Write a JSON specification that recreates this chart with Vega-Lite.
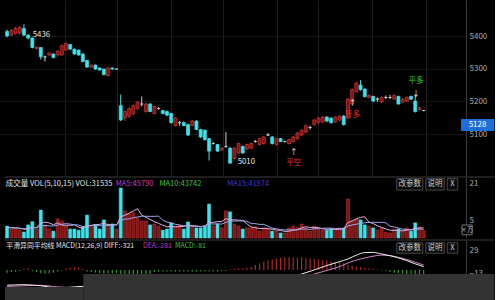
{
  "$schema": "https://vega.github.io/schema/vega-lite/v6.json",
  "background": "#000000",
  "padding": 0,
  "spacing": 0,
  "config": {
    "view": {"stroke": null},
    "concat": {"spacing": 0},
    "axis": {"labelFont": "Noto Sans CJK SC", "labelFontSize": 8, "labelColor": "#a8a8a8"},
    "text": {"font": "Noto Sans CJK SC"}
  },
  "datasets": {
    "k": [
      {"i":0,"o":5414,"c":5400,"h":5420,"l":5396,"v":5.2,"m5":4.5,"m10":4.5,"m":-5},
      {"i":1,"o":5403,"c":5417,"h":5422,"l":5400,"v":4,"m5":4.5,"m10":4.5,"m":-4},
      {"i":2,"o":5408,"c":5423,"h":5428,"l":5405,"v":4,"m5":4.4,"m10":4.4,"m":-3},
      {"i":3,"o":5409,"c":5426,"h":5430,"l":5405,"v":3.5,"m5":4.2,"m10":4.3,"m":-2},
      {"i":4,"o":5423,"c":5403,"h":5436,"l":5400,"v":2.6,"m5":3.86,"m10":4.1,"m":2},
      {"i":5,"o":5403,"c":5394,"h":5405,"l":5390,"v":5.7,"m5":3.96,"m10":4.2,"m":3},
      {"i":6,"o":5394,"c":5365,"h":5396,"l":5362,"v":7.1,"m5":4.58,"m10":4.5,"m":-2},
      {"i":7,"o":5362,"c":5366,"h":5368,"l":5360,"v":4,"m5":4.58,"m10":4.5,"m":-4},
      {"i":8,"o":5365,"c":5337,"h":5366,"l":5328,"v":12.2,"m5":6.32,"m10":5.3,"m":-6},
      {"i":9,"o":5336,"c":5336,"h":5340,"l":5322,"v":5.7,"m5":6.94,"m10":5.4,"m":-7},
      {"i":10,"o":5342,"c":5348,"h":5350,"l":5340,"v":3.9,"m5":6.58,"m10":5.3,"m":-6},
      {"i":11,"o":5345,"c":5334,"h":5347,"l":5332,"v":3,"m5":5.76,"m10":5.2,"m":-5},
      {"i":12,"o":5342,"c":5354,"h":5356,"l":5340,"v":8.3,"m5":6.62,"m10":5.6,"m":-3},
      {"i":13,"o":5342,"c":5371,"h":5374,"l":5340,"v":7.4,"m5":5.66,"m10":6,"m":-1},
      {"i":14,"o":5357,"c":5377,"h":5380,"l":5355,"v":5.2,"m5":5.56,"m10":6.25,"m":2},
      {"i":15,"o":5374,"c":5360,"h":5376,"l":5358,"v":3.9,"m5":5.56,"m10":6.07,"m":4},
      {"i":16,"o":5360,"c":5345,"h":5362,"l":5343,"v":3.9,"m5":5.74,"m10":5.75,"m":5},
      {"i":17,"o":5357,"c":5342,"h":5359,"l":5340,"v":3.4,"m5":4.76,"m10":5.69,"m":4},
      {"i":18,"o":5345,"c":5322,"h":5347,"l":5320,"v":4.8,"m5":4.24,"m10":4.95,"m":2},
      {"i":19,"o":5325,"c":5305,"h":5327,"l":5303,"v":10,"m5":5.2,"m10":5.38,"m":-3},
      {"i":20,"o":5305,"c":5311,"h":5313,"l":5303,"v":5.2,"m5":5.46,"m10":5.51,"m":-4},
      {"i":21,"o":5311,"c":5299,"h":5313,"l":5297,"v":5.7,"m5":5.82,"m10":5.78,"m":-5},
      {"i":22,"o":5302,"c":5296,"h":5304,"l":5294,"v":3.9,"m5":5.92,"m10":5.34,"m":-6},
      {"i":23,"o":5299,"c":5282,"h":5300,"l":5280,"v":7.9,"m5":6.54,"m10":5.39,"m":-7},
      {"i":24,"o":5279,"c":5302,"h":5306,"l":5276,"v":6.1,"m5":5.76,"m10":5.48,"m":-6},
      {"i":25,"o":5302,"c":5299,"h":5304,"l":5297,"v":6.1,"m5":5.94,"m10":5.7,"m":-6},
      {"i":26,"o":5299,"c":5299,"h":5300,"l":5298,"v":3.9,"m5":5.58,"m10":5.7,"m":-6},
      {"i":27,"o":5187,"c":5143,"h":5221,"l":5140,"v":21.8,"m5":9.16,"m10":7.54,"m":-10},
      {"i":28,"o":5149,"c":5169,"h":5172,"l":5140,"v":11.8,"m5":9.94,"m10":8.24,"m":-10},
      {"i":29,"o":5155,"c":5178,"h":5181,"l":5150,"v":10.5,"m5":10.82,"m10":8.29,"m":-11},
      {"i":30,"o":5163,"c":5187,"h":5190,"l":5158,"v":11,"m5":11.8,"m10":8.87,"m":-12},
      {"i":31,"o":5178,"c":5198,"h":5200,"l":5175,"v":8.8,"m5":12.78,"m10":9.18,"m":-12},
      {"i":32,"o":5192,"c":5192,"h":5215,"l":5184,"v":7.4,"m5":9.9,"m10":9.53,"m":-11},
      {"i":33,"o":5169,"c":5192,"h":5196,"l":5165,"v":7.4,"m5":9.02,"m10":9.48,"m":-10},
      {"i":34,"o":5192,"c":5169,"h":5195,"l":5167,"v":5.7,"m5":8.06,"m10":9.44,"m":-9},
      {"i":35,"o":5163,"c":5184,"h":5187,"l":5160,"v":6.1,"m5":7.08,"m10":9.44,"m":-4},
      {"i":36,"o":5178,"c":5178,"h":5182,"l":5175,"v":5.2,"m5":6.36,"m10":9.57,"m":-3},
      {"i":37,"o":5172,"c":5163,"h":5174,"l":5160,"v":3.4,"m5":5.56,"m10":7.73,"m":-3},
      {"i":38,"o":5169,"c":5158,"h":5172,"l":5155,"v":3.9,"m5":4.86,"m10":6.94,"m":-3},
      {"i":39,"o":5163,"c":5135,"h":5165,"l":5132,"v":6.6,"m5":5.04,"m10":6.55,"m":-3},
      {"i":40,"o":5126,"c":5149,"h":5152,"l":5123,"v":5.2,"m5":4.86,"m10":5.97,"m":-3},
      {"i":41,"o":5135,"c":5135,"h":5140,"l":5126,"v":5.7,"m5":4.96,"m10":5.66,"m":-3},
      {"i":42,"o":5135,"c":5126,"h":5138,"l":5124,"v":3.9,"m5":5.06,"m10":5.31,"m":-3},
      {"i":43,"o":5129,"c":5097,"h":5132,"l":5094,"v":7,"m5":5.68,"m10":5.27,"m":-3},
      {"i":44,"o":5126,"c":5140,"h":5143,"l":5124,"v":5.2,"m5":5.4,"m10":5.22,"m":-3},
      {"i":45,"o":5140,"c":5114,"h":5142,"l":5112,"v":4.4,"m5":5.24,"m10":5.05,"m":-3},
      {"i":46,"o":5114,"c":5091,"h":5116,"l":5088,"v":4.4,"m5":4.98,"m10":4.97,"m":-3},
      {"i":47,"o":5112,"c":5083,"h":5114,"l":5080,"v":5.2,"m5":5.24,"m10":5.15,"m":-3},
      {"i":48,"o":5086,"c":5048,"h":5088,"l":5019,"v":14.8,"m5":6.8,"m10":6.24,"m":-3},
      {"i":49,"o":5071,"c":5071,"h":5075,"l":5068,"v":5.2,"m5":6.8,"m10":6.1,"m":-3},
      {"i":50,"o":5068,"c":5048,"h":5070,"l":5045,"v":6.1,"m5":7.14,"m10":6.19,"m":-3},
      {"i":51,"o":5051,"c":5057,"h":5059,"l":5049,"v":4.4,"m5":7.14,"m10":6.06,"m":-2},
      {"i":52,"o":5062,"c":5062,"h":5106,"l":5058,"v":11.8,"m5":8.46,"m10":6.85,"m":-2},
      {"i":53,"o":5057,"c":5011,"h":5060,"l":5010,"v":11.4,"m5":7.78,"m10":7.29,"m":1},
      {"i":54,"o":5025,"c":5057,"h":5060,"l":5022,"v":6.1,"m5":7.96,"m10":7.38,"m":2},
      {"i":55,"o":5042,"c":5071,"h":5074,"l":5040,"v":5.2,"m5":7.78,"m10":7.46,"m":3},
      {"i":56,"o":5062,"c":5042,"h":5065,"l":5040,"v":3.9,"m5":7.68,"m10":7.41,"m":3},
      {"i":57,"o":5054,"c":5068,"h":5071,"l":5051,"v":4.4,"m5":6.2,"m10":7.33,"m":4},
      {"i":58,"o":5057,"c":5071,"h":5074,"l":5054,"v":4.4,"m5":4.8,"m10":6.29,"m":6},
      {"i":59,"o":5077,"c":5077,"h":5082,"l":5074,"v":4.8,"m5":4.54,"m10":6.25,"m":9},
      {"i":60,"o":5068,"c":5086,"h":5089,"l":5065,"v":3,"m5":4.1,"m10":5.94,"m":12},
      {"i":61,"o":5071,"c":5091,"h":5094,"l":5068,"v":4.4,"m5":4.2,"m10":5.94,"m":15},
      {"i":62,"o":5097,"c":5097,"h":5103,"l":5094,"v":3.9,"m5":4.1,"m10":5.15,"m":17},
      {"i":63,"o":5091,"c":5071,"h":5094,"l":5068,"v":3,"m5":3.82,"m10":4.31,"m":19},
      {"i":64,"o":5068,"c":5086,"h":5088,"l":5065,"v":3,"m5":3.46,"m10":4,"m":21},
      {"i":65,"o":5086,"c":5077,"h":5088,"l":5075,"v":2.2,"m5":3.3,"m10":3.7,"m":22},
      {"i":66,"o":5077,"c":5077,"h":5080,"l":5074,"v":2.2,"m5":2.86,"m10":3.53,"m":23},
      {"i":67,"o":5071,"c":5083,"h":5086,"l":5068,"v":4.4,"m5":2.96,"m10":3.53,"m":23},
      {"i":68,"o":5077,"c":5091,"h":5094,"l":5074,"v":5.2,"m5":3.4,"m10":3.61,"m":22},
      {"i":69,"o":5086,"c":5103,"h":5106,"l":5083,"v":4.4,"m5":3.68,"m10":3.57,"m":22},
      {"i":70,"o":5097,"c":5112,"h":5114,"l":5094,"v":6.1,"m5":4.46,"m10":3.88,"m":23},
      {"i":71,"o":5106,"c":5126,"h":5129,"l":5103,"v":4.4,"m5":4.9,"m10":3.88,"m":22},
      {"i":72,"o":5120,"c":5120,"h":5126,"l":5114,"v":3,"m5":4.62,"m10":3.79,"m":21},
      {"i":73,"o":5129,"c":5143,"h":5146,"l":5126,"v":5.2,"m5":4.62,"m10":4.01,"m":20},
      {"i":74,"o":5135,"c":5149,"h":5152,"l":5132,"v":3.9,"m5":4.52,"m10":4.1,"m":19},
      {"i":75,"o":5137,"c":5152,"h":5155,"l":5135,"v":3.4,"m5":3.98,"m10":4.22,"m":18},
      {"i":76,"o":5152,"c":5140,"h":5155,"l":5137,"v":3.4,"m5":3.78,"m10":4.34,"m":17},
      {"i":77,"o":5149,"c":5135,"h":5151,"l":5132,"v":3.9,"m5":3.96,"m10":4.29,"m":16},
      {"i":78,"o":5137,"c":5152,"h":5155,"l":5135,"v":3.9,"m5":3.7,"m10":4.16,"m":15},
      {"i":79,"o":5143,"c":5155,"h":5158,"l":5140,"v":4.4,"m5":3.8,"m10":4.16,"m":14},
      {"i":80,"o":5155,"c":5129,"h":5158,"l":5126,"v":4.4,"m5":4,"m10":3.99,"m":12},
      {"i":81,"o":5149,"c":5207,"h":5210,"l":5146,"v":17,"m5":6.72,"m10":5.25,"m":10},
      {"i":82,"o":5192,"c":5236,"h":5240,"l":5190,"v":7.4,"m5":7.42,"m10":5.69,"m":8},
      {"i":83,"o":5230,"c":5256,"h":5260,"l":5227,"v":8.3,"m5":8.3,"m10":6,"m":6},
      {"i":84,"o":5250,"c":5236,"h":5265,"l":5233,"v":7.9,"m5":9,"m10":6.4,"m":5},
      {"i":85,"o":5238,"c":5215,"h":5240,"l":5212,"v":5.7,"m5":9.26,"m10":6.63,"m":4},
      {"i":86,"o":5212,"c":5218,"h":5222,"l":5210,"v":5.2,"m5":6.9,"m10":6.81,"m":3},
      {"i":87,"o":5215,"c":5201,"h":5218,"l":5198,"v":4.4,"m5":6.3,"m10":6.86,"m":2},
      {"i":88,"o":5207,"c":5207,"h":5212,"l":5198,"v":3.4,"m5":5.32,"m10":6.81,"m":1},
      {"i":89,"o":5198,"c":5212,"h":5215,"l":5195,"v":4.4,"m5":4.62,"m10":6.81,"m":-1},
      {"i":90,"o":5212,"c":5212,"h":5218,"l":5207,"v":2.6,"m5":4,"m10":6.63,"m":-2},
      {"i":91,"o":5212,"c":5212,"h":5220,"l":5207,"v":2.2,"m5":3.4,"m10":5.15,"m":-4},
      {"i":92,"o":5207,"c":5218,"h":5221,"l":5204,"v":3.9,"m5":3.3,"m10":4.8,"m":-5},
      {"i":93,"o":5215,"c":5192,"h":5218,"l":5190,"v":3.9,"m5":3.4,"m10":4.36,"m":-6},
      {"i":94,"o":5198,"c":5207,"h":5210,"l":5195,"v":3,"m5":3.12,"m10":3.87,"m":-7},
      {"i":95,"o":5201,"c":5212,"h":5215,"l":5198,"v":4.4,"m5":3.48,"m10":3.74,"m":-8},
      {"i":96,"o":5215,"c":5207,"h":5218,"l":5204,"v":3,"m5":3.64,"m10":3.52,"m":-8},
      {"i":97,"o":5201,"c":5169,"h":5221,"l":5166,"v":6.6,"m5":4.18,"m10":3.74,"m":-9},
      {"i":98,"o":5175,"c":5180,"h":5184,"l":5172,"v":4.8,"m5":4.36,"m10":3.88,"m":-9},
      {"i":99,"o":5172,"c":5172,"h":5174,"l":5170,"v":3.15,"m5":4.39,"m10":3.76,"m":-9}
    ],
    "lab": [
      {"i":6.1,"p":5402,"t":"5436"},
      {"i":54.8,"p":5014,"t":"5010"}
    ],
    "sig": [
      {"i":68.1,"p":5042,"t":"↑","s":"arrow"},
      {"i":68.1,"p":5012,"t":"平空","s":"short"},
      {"i":82.1,"p":5192,"t":"↑","s":"arrow"},
      {"i":82.1,"p":5158,"t":"开多","s":"short"},
      {"i":97.2,"p":5224,"t":"↓","s":"arrow"},
      {"i":97.2,"p":5263,"t":"平多","s":"long"}
    ],
    "last": [{"p":5128}],
    "vh": [
      {"i":-0.3,"t":"成交量 VOL(5,10,15) VOL:31535","s":"main"},
      {"i":25.8,"t":"MA5:45790","s":"MA5"},
      {"i":36.2,"t":"MA10:43742","s":"MA10"},
      {"i":52.3,"t":"MA15:41974","s":"MA15"}
    ],
    "mh": [
      {"i":-0.2,"t":"平滑异同平均线 MACD(12,26,9) DIFF:-321","s":"main"},
      {"i":32.3,"t":"DEA:-281","s":"DEA"},
      {"i":39.9,"t":"MACD:-81","s":"MACD"}
    ],
    "btn": [
      {"t":"改参数","a":92.6,"b":98.8,"c":95.7},
      {"t":"说明","a":99.5,"b":103.9,"c":101.7},
      {"t":"X","a":104.6,"b":107.1,"c":105.85}
    ],
    "dif": [
      {"i":0,"y":-28},{"i":4,"y":-27},{"i":8,"y":-29},{"i":12,"y":-33},{"i":16,"y":-31},{"i":18,"y":-30},
      {"i":22,"y":-34},{"i":27,"y":-40},{"i":32,"y":-46},{"i":37,"y":-50},{"i":42,"y":-53},{"i":47,"y":-55},
      {"i":52,"y":-52},{"i":57,"y":-42},{"i":62,"y":-28},{"i":66,"y":-16},{"i":70,"y":-7.5},{"i":73,"y":0},
      {"i":76,"y":8},{"i":79,"y":15},{"i":81,"y":20},{"i":83,"y":27},{"i":85,"y":31.6},{"i":87,"y":32},
      {"i":89,"y":29},{"i":91,"y":26},{"i":93,"y":22},{"i":95,"y":17},{"i":97,"y":11},{"i":99,"y":6}
    ],
    "dea": [
      {"i":0,"y":-30},{"i":4,"y":-29},{"i":8,"y":-28},{"i":12,"y":-31},{"i":16,"y":-32},{"i":18,"y":-31},
      {"i":22,"y":-33},{"i":27,"y":-36},{"i":32,"y":-40},{"i":37,"y":-44},{"i":42,"y":-48},{"i":47,"y":-50},
      {"i":52,"y":-50},{"i":57,"y":-45},{"i":62,"y":-35},{"i":66,"y":-25},{"i":70,"y":-15},{"i":73,"y":-7.5},
      {"i":76,"y":-1},{"i":79,"y":6},{"i":81,"y":12.6},{"i":84,"y":20},{"i":87,"y":25},{"i":89,"y":27},
      {"i":91,"y":26},{"i":93,"y":23},{"i":95,"y":19},{"i":97,"y":14},{"i":99,"y":9}
    ]
  },
  "vconcat": [
    {
      "width": 466,
      "height": 176,
      "layer": [
        {
          "data": {"name": "k"},
          "mark": {"type": "rule", "strokeWidth": 1},
          "encoding": {
            "x": {"field": "i", "type": "quantitative", "scale": {"domain": [-0.5, 107.87], "nice": false, "zero": false},
              "axis": {"values": [13.7, 26.2, 39, 51.4, 64.2, 73.9, 86.7, 99.5], "grid": true, "gridColor": "#1e1e1e", "labels": false, "ticks": false, "domain": false, "title": null}},
            "y": {"field": "l", "type": "quantitative", "scale": {"domain": [4987, 5495], "nice": false, "zero": false},
              "axis": {"orient": "right", "values": [5100, 5200, 5300, 5400], "format": "d", "grid": true, "gridColor": "#141414", "ticks": false, "domain": true, "domainColor": "#3c3c3c", "labelPadding": 3, "title": null}},
            "y2": {"field": "h"},
            "color": {"condition": [{"test": "datum.c > datum.o", "value": "#cf2f2f"}, {"test": "datum.c < datum.o", "value": "#3ee2ea"}], "value": "#d0d0d0"}
          }
        },
        {
          "data": {"name": "k"},
          "mark": {"type": "bar", "size": 3, "strokeWidth": 0.7},
          "encoding": {
            "x": {"field": "i", "type": "quantitative"},
            "y": {"field": "o", "type": "quantitative"},
            "y2": {"field": "c"},
            "fill": {"condition": [{"test": "datum.c > datum.o", "value": "#7a1616"}, {"test": "datum.c < datum.o", "value": "#3ee2ea"}], "value": "#d0d0d0"},
            "stroke": {"condition": [{"test": "datum.c > datum.o", "value": "#d83434"}, {"test": "datum.c < datum.o", "value": "#3ee2ea"}], "value": "#d0d0d0"}
          }
        },
        {
          "data": {"name": "lab"},
          "mark": {"type": "text", "align": "left", "baseline": "middle", "fontSize": 7.8, "color": "#e6e6e6"},
          "encoding": {
            "x": {"field": "i", "type": "quantitative"},
            "y": {"field": "p", "type": "quantitative"},
            "text": {"field": "t"}
          }
        },
        {
          "data": {"name": "sig"},
          "mark": {"type": "text", "align": "center", "baseline": "middle", "fontSize": 7.5},
          "encoding": {
            "x": {"field": "i", "type": "quantitative"},
            "y": {"field": "p", "type": "quantitative"},
            "text": {"field": "t"},
            "color": {"field": "s", "type": "nominal", "legend": null,
              "scale": {"domain": ["main","MA5","MA10","MA15","DEA","MACD","short","long","arrow"], "range": ["#e6e6e6","#c43cc4","#3cc43c","#3a3ad6","#c43cc4","#3cc43c","#e03030","#2ed02e","#e6e6e6"]}}
          }
        },
        {
          "data": {"name": "last"},
          "mark": {"type": "bar", "size": 12, "color": "#1b6fd8"},
          "encoding": {
            "y": {"field": "p", "type": "quantitative"},
            "x": {"datum": 107.87},
            "x2": {"datum": 115.8}
          }
        },
        {
          "data": {"name": "last"},
          "mark": {"type": "text", "align": "center", "baseline": "middle", "fontSize": 8, "color": "#ffffff"},
          "encoding": {
            "y": {"field": "p", "type": "quantitative"},
            "x": {"datum": 111.8},
            "text": {"field": "p", "type": "nominal"}
          }
        }
      ]
    },
    {
      "width": 466,
      "height": 61,
      "layer": [
        {
          "data": {"name": "k"},
          "mark": {"type": "bar", "size": 3, "strokeWidth": 0.6},
          "encoding": {
            "x": {"field": "i", "type": "quantitative", "scale": {"domain": [-0.5, 107.87], "nice": false, "zero": false}, "axis": null},
            "y": {"field": "v", "type": "quantitative", "scale": {"domain": [0, 26.6], "nice": false},
              "axis": {"orient": "right", "values": [5, 13, 21], "grid": false, "ticks": false, "domain": true, "domainColor": "#3c3c3c", "labelPadding": 3, "labelBaseline": "bottom", "labelOffset": -2, "title": null}},
            "fill": {"condition": [{"test": "datum.c > datum.o", "value": "#7a1616"}, {"test": "datum.c < datum.o", "value": "#3ee2ea"}], "value": "#7a1616"},
            "stroke": {"condition": [{"test": "datum.c > datum.o", "value": "#c83030"}, {"test": "datum.c < datum.o", "value": "#3ee2ea"}], "value": "#c83030"}
          }
        },
        {
          "data": {"name": "k"},
          "mark": {"type": "line", "color": "#e0b0e0", "strokeWidth": 1},
          "encoding": {"x": {"field": "i", "type": "quantitative"}, "y": {"field": "m5", "type": "quantitative"}}
        },
        {
          "data": {"name": "k"},
          "mark": {"type": "line", "color": "#9ea8ea", "strokeWidth": 1},
          "encoding": {"x": {"field": "i", "type": "quantitative"}, "y": {"field": "m10", "type": "quantitative"}}
        },
        {
          "data": {"values": [{}]},
          "mark": {"type": "rule", "color": "#3c3c3c", "strokeWidth": 1},
          "encoding": {"y": {"datum": 26.6}, "x": {"datum": -0.5}, "x2": {"datum": 115.8}}
        },
        {
          "data": {"name": "vh"},
          "mark": {"type": "text", "align": "left", "baseline": "middle", "fontSize": 7.5},
          "encoding": {
            "x": {"field": "i", "type": "quantitative"},
            "y": {"datum": 23.4},
            "text": {"field": "t"},
            "color": {"field": "s", "type": "nominal", "legend": null,
              "scale": {"domain": ["main","MA5","MA10","MA15","DEA","MACD","short","long","arrow"], "range": ["#e6e6e6","#c43cc4","#3cc43c","#3a3ad6","#c43cc4","#3cc43c","#e03030","#2ed02e","#e6e6e6"]}}
          }
        },
        {
          "data": {"name": "btn"},
          "mark": {"type": "rect", "fill": "#0a0a0a", "stroke": "#4a4a4a", "strokeWidth": 1},
          "encoding": {"x": {"field": "a", "type": "quantitative"}, "x2": {"field": "b"}, "y": {"datum": 25.9}, "y2": {"datum": 20.9}}
        },
        {
          "data": {"name": "btn"},
          "mark": {"type": "text", "align": "center", "baseline": "middle", "fontSize": 7.5, "color": "#cfcfcf"},
          "encoding": {"x": {"field": "c", "type": "quantitative"}, "y": {"datum": 23.4}, "text": {"field": "t"}}
        },
        {
          "data": {"values": [{"t": "×万"}]},
          "mark": {"type": "rect", "fill": "#000000", "stroke": "#8a8a8a", "strokeWidth": 0.8},
          "encoding": {"x": {"datum": 108.1}, "x2": {"datum": 110.5}, "y": {"datum": 5.7}, "y2": {"datum": 1.4}}
        },
        {
          "data": {"values": [{"t": "×万"}]},
          "mark": {"type": "text", "align": "center", "baseline": "middle", "fontSize": 6.5, "color": "#bdbdbd"},
          "encoding": {"x": {"datum": 109.3}, "y": {"datum": 3.55}, "text": {"field": "t"}}
        }
      ]
    },
    {
      "width": 466,
      "height": 63,
      "layer": [
        {
          "data": {"name": "k"},
          "mark": {"type": "bar", "size": 1.2},
          "encoding": {
            "x": {"field": "i", "type": "quantitative", "scale": {"domain": [-0.5, 107.87], "nice": false, "zero": false}, "axis": null},
            "y": {"field": "m", "type": "quantitative", "scale": {"domain": [-60.4, 54.6], "nice": false},
              "axis": {"orient": "right", "values": [29, -13], "grid": false, "ticks": false, "domain": true, "domainColor": "#3c3c3c", "labelPadding": 3, "labelBaseline": "bottom", "title": null}},
            "color": {"condition": {"test": "datum.m > 0", "value": "#a82828"}, "value": "#2c9a2c"}
          }
        },
        {
          "data": {"name": "dea"},
          "mark": {"type": "line", "color": "#d383c6", "strokeWidth": 1, "interpolate": "monotone"},
          "encoding": {"x": {"field": "i", "type": "quantitative"}, "y": {"field": "y", "type": "quantitative"}}
        },
        {
          "data": {"name": "dif"},
          "mark": {"type": "line", "color": "#eeeeee", "strokeWidth": 1, "interpolate": "monotone"},
          "encoding": {"x": {"field": "i", "type": "quantitative"}, "y": {"field": "y", "type": "quantitative"}}
        },
        {
          "data": {"values": [{}]},
          "mark": {"type": "rule", "color": "#3c3c3c", "strokeWidth": 1},
          "encoding": {"y": {"datum": 54.6}, "x": {"datum": -0.5}, "x2": {"datum": 115.8}}
        },
        {
          "data": {"name": "mh"},
          "mark": {"type": "text", "align": "left", "baseline": "middle", "fontSize": 6.9},
          "encoding": {
            "x": {"field": "i", "type": "quantitative"},
            "y": {"datum": 43.6},
            "text": {"field": "t"},
            "color": {"field": "s", "type": "nominal", "legend": null,
              "scale": {"domain": ["main","MA5","MA10","MA15","DEA","MACD","short","long","arrow"], "range": ["#e6e6e6","#c43cc4","#3cc43c","#3a3ad6","#c43cc4","#3cc43c","#e03030","#2ed02e","#e6e6e6"]}}
          }
        },
        {
          "data": {"name": "btn"},
          "mark": {"type": "rect", "fill": "#0a0a0a", "stroke": "#4a4a4a", "strokeWidth": 1},
          "encoding": {"x": {"field": "a", "type": "quantitative"}, "x2": {"field": "b"}, "y": {"datum": 49.5}, "y2": {"datum": 30.5}}
        },
        {
          "data": {"name": "btn"},
          "mark": {"type": "text", "align": "center", "baseline": "middle", "fontSize": 7.5, "color": "#cfcfcf"},
          "encoding": {"x": {"field": "c", "type": "quantitative"}, "y": {"datum": 40}, "text": {"field": "t"}}
        },
        {
          "data": {"values": [{}]},
          "mark": {"type": "rect", "fill": "#333333"},
          "encoding": {"x": {"datum": 18.1}, "x2": {"datum": 115.8}, "y": {"datum": -7.5}, "y2": {"datum": -60.4}}
        },
        {
          "data": {"values": [{}]},
          "mark": {"type": "rect", "fill": "#333333"},
          "encoding": {"x": {"datum": -0.5}, "x2": {"datum": 18.1}, "y": {"datum": -31.2}, "y2": {"datum": -60.4}}
        }
      ]
    }
  ]
}
